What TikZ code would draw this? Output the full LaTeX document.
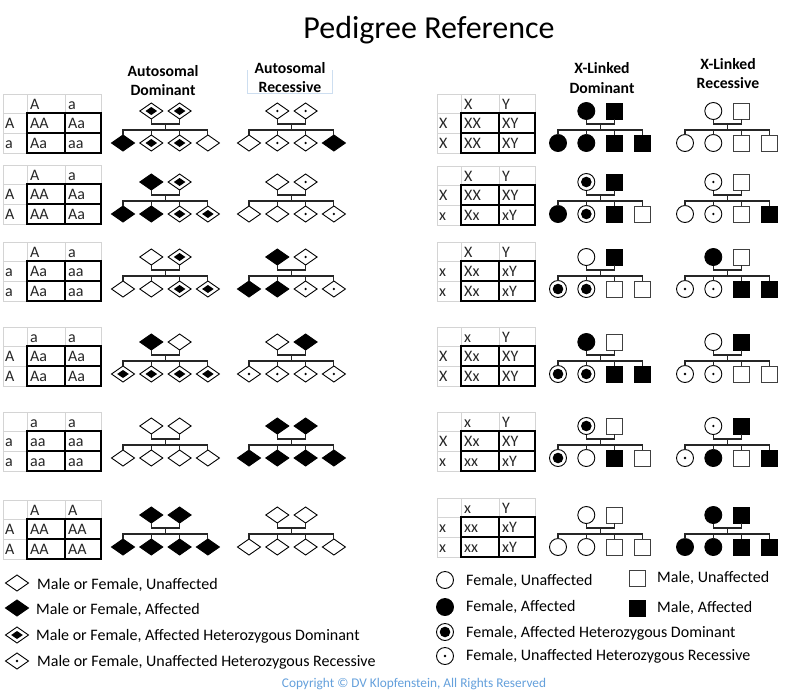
\documentclass[tikz,border=0pt]{standalone}
\usepackage{fontspec}
\setmainfont{Carlito}
\usetikzlibrary{shapes.geometric}
\definecolor{cpy}{RGB}{100,160,220}
\definecolor{tlightc}{RGB}{212,212,212}
\definecolor{boxc}{RGB}{205,222,240}
\tikzset{
  sym/.style={draw=black, line width=0.9pt, inner sep=0pt, outer sep=0pt, fill=white},
  dW/.style={sym, diamond, minimum width=23pt, minimum height=16pt},
  dD/.style={dW, fill=black},
  dH/.style={dW, path picture={\fill[black] ([xshift=-5.8pt]path picture bounding box.center) -- ++(5.8pt,4pt) -- ++(5.8pt,-4pt) -- ++(-5.8pt,-4pt) -- cycle;}},
  dR/.style={dW, path picture={\fill[black] (path picture bounding box.center) circle (1.3pt);}},
  cW/.style={sym, circle, minimum size=17pt},
  cF/.style={cW, fill=black},
  cH/.style={cW, path picture={\fill[black] (path picture bounding box.center) circle (5.3pt);}},
  cR/.style={cW, path picture={\fill[black] (path picture bounding box.center) circle (1.3pt);}},
  sW/.style={sym, rectangle, minimum size=16pt, draw=black!75},
  sF/.style={sW, fill=black, draw=black},
  conn/.style={draw=black!85, line width=1.1pt},
  tlight/.style={draw=tlightc, line width=1pt},
  tdark/.style={draw=black, line width=1.2pt},
  ttext/.style={anchor=base west, inner sep=0pt, font=\fontsize{16}{19}\selectfont, text=black!85},
  head/.style={anchor=base, inner sep=0pt, font=\fontsize{15.7}{19}\selectfont\bfseries},
  legtext/.style={anchor=base west, inner sep=0pt, font=\fontsize{16}{19}\selectfont},
}
\newcommand\pedg[9]{%
  \node[#4] (#1p1) at ({#2+28.3}, #3) {};
  \node[#5] (#1p2) at ({#2+56.6}, #3) {};
  \node[#6] (#1c1) at (#2, {#3+32}) {};
  \node[#7] (#1c2) at ({#2+28.3}, {#3+32}) {};
  \node[#8] (#1c3) at ({#2+56.6}, {#3+32}) {};
  \node[#9] (#1c4) at ({#2+84.9}, {#3+32}) {};
  \coordinate (#1pl) at ({#2+42.45}, {#3+13});
  \coordinate (#1sl) at ({#2+42.45}, {#3+19});
  \draw[conn] (#1p1.south) |- (#1pl) -| (#1p2.south);
  \draw[conn] (#1pl) -- (#1sl);
  \draw[conn] (#1c1.north) |- (#1sl) -| (#1c4.north);
  \draw[conn] (#1c2.north) -- (#1c2.north |- #1sl);
  \draw[conn] (#1c3.north) -- (#1c3.north |- #1sl);
}
\newcommand\ptab[9]{%
  \draw[tlight] (0,0) rectangle (98,59);
  \draw[tlight] (24,0) -- (24,19) (62,0) -- (62,19) (0,19) -- (24,19) (0,39) -- (24,39);
  \draw[tdark] (24,19) rectangle (98,59) (62,19) -- (62,59) (24,39) -- (98,39);
  \draw[tdark, line width=2pt] (24,19) -- (24,59);
  \node[ttext] (#1h1) at (27,15.5) {#2};
  \node[ttext] (#1h2) at (65,15.5) {#3};
  \node[ttext] (#1r1) at (2,34.5) {#4};
  \node[ttext] (#1r2) at (2,54) {#5};
  \node[ttext] (#1a) at (27,34.5) {#6};
  \node[ttext] (#1b) at (65,34.5) {#7};
  \node[ttext] (#1c) at (27,54) {#8};
  \node[ttext] (#1d) at (65,54) {#9};
}
\begin{document}
\begin{tikzpicture}[x=1pt, y=-1pt]
\useasboundingbox[fill=white] (0,0) rectangle (789,699);
\node[anchor=base, inner sep=0pt, font=\fontsize{32}{38}\selectfont] (title) at (429,38) {Pedigree Reference};
% headings
\node[head] (hAD1) at (163,76) {Autosomal};
\node[head] (hAD2) at (163,95) {Dominant};
\draw[draw=boxc, line width=0.8pt] (247,70) -- (247,93) -- (332,93) -- (332,70);
\node[head] (hAR1) at (290,73) {Autosomal};
\node[head] (hAR2) at (290,92) {Recessive};
\node[head] (hXD1) at (602,73) {X-Linked};
\node[head] (hXD2) at (602,93) {Dominant};
\node[head] (hXR1) at (728,69) {X-Linked};
\node[head] (hXR2) at (728,88) {Recessive};
% tables left
\begin{scope}[shift={(3,94)}]\ptab{tl1}{A}{a}{A}{a}{AA}{Aa}{Aa}{aa}\end{scope}
\begin{scope}[shift={(3,165)}]\ptab{tl2}{A}{a}{A}{A}{AA}{Aa}{AA}{Aa}\end{scope}
\begin{scope}[shift={(3,242)}]\ptab{tl3}{A}{a}{a}{a}{Aa}{aa}{Aa}{aa}\end{scope}
\begin{scope}[shift={(3,327)}]\ptab{tl4}{a}{a}{A}{A}{Aa}{Aa}{Aa}{Aa}\end{scope}
\begin{scope}[shift={(3,412)}]\ptab{tl5}{a}{a}{a}{a}{aa}{aa}{aa}{aa}\end{scope}
\begin{scope}[shift={(3,500)}]\ptab{tl6}{A}{A}{A}{A}{AA}{AA}{AA}{AA}\end{scope}
% tables right
\begin{scope}[shift={(437,94)}]\ptab{tr1}{X}{Y}{X}{X}{XX}{XY}{XX}{XY}\end{scope}
\begin{scope}[shift={(437,166)}]\ptab{tr2}{X}{Y}{X}{x}{XX}{XY}{Xx}{xY}\end{scope}
\begin{scope}[shift={(437,242)}]\ptab{tr3}{X}{Y}{x}{x}{Xx}{xY}{Xx}{xY}\end{scope}
\begin{scope}[shift={(437,327)}]\ptab{tr4}{x}{Y}{X}{X}{Xx}{XY}{Xx}{XY}\end{scope}
\begin{scope}[shift={(437,412)}]\ptab{tr5}{x}{Y}{X}{x}{Xx}{XY}{xx}{xY}\end{scope}
\begin{scope}[shift={(437,498)}]\ptab{tr6}{x}{Y}{x}{x}{xx}{xY}{xx}{xY}\end{scope}
% autosomal dominant
\pedg{ad1}{123}{111}{dH}{dH}{dD}{dH}{dH}{dW}
\pedg{ad2}{123}{182}{dD}{dH}{dD}{dD}{dH}{dH}
\pedg{ad3}{123}{257}{dW}{dH}{dW}{dW}{dH}{dH}
\pedg{ad4}{123}{342}{dD}{dW}{dH}{dH}{dH}{dH}
\pedg{ad5}{123}{426}{dW}{dW}{dW}{dW}{dW}{dW}
\pedg{ad6}{123}{515}{dD}{dD}{dD}{dD}{dD}{dD}
% autosomal recessive
\pedg{ar1}{249}{111}{dR}{dR}{dW}{dR}{dR}{dD}
\pedg{ar2}{249}{182}{dW}{dR}{dW}{dW}{dR}{dR}
\pedg{ar3}{249}{257}{dD}{dR}{dD}{dD}{dR}{dR}
\pedg{ar4}{249}{342}{dW}{dD}{dR}{dR}{dR}{dR}
\pedg{ar5}{249}{426}{dD}{dD}{dD}{dD}{dD}{dD}
\pedg{ar6}{249}{515}{dW}{dW}{dW}{dW}{dW}{dW}
% x-linked dominant
\pedg{xd1}{558}{111}{cF}{sF}{cF}{cF}{sF}{sF}
\pedg{xd2}{558}{182}{cH}{sF}{cF}{cH}{sF}{sW}
\pedg{xd3}{558}{257}{cW}{sF}{cH}{cH}{sW}{sW}
\pedg{xd4}{558}{342}{cF}{sW}{cH}{cH}{sF}{sF}
\pedg{xd5}{558}{426}{cH}{sW}{cH}{cW}{sF}{sW}
\pedg{xd6}{558}{515}{cW}{sW}{cW}{cW}{sW}{sW}
% x-linked recessive
\pedg{xr1}{685}{111}{cW}{sW}{cW}{cW}{sW}{sW}
\pedg{xr2}{685}{182}{cR}{sW}{cW}{cR}{sW}{sF}
\pedg{xr3}{685}{257}{cF}{sW}{cR}{cR}{sF}{sF}
\pedg{xr4}{685}{342}{cW}{sF}{cR}{cR}{sW}{sW}
\pedg{xr5}{685}{426}{cR}{sF}{cR}{cF}{sW}{sF}
\pedg{xr6}{685}{515}{cF}{sF}{cF}{cF}{sF}{sF}
% legend left
\node[dW] (L1) at (17,583) {};
\node[dD] (L2) at (17,608) {};
\node[dH] (L3) at (17,635) {};
\node[dR] (L4) at (17,661) {};
\node[legtext] (L1t) at (37,589) {Male or Female, Unaffected};
\node[legtext] (L2t) at (36,614) {Male or Female, Affected};
\node[legtext] (L3t) at (36,640) {Male or Female, Affected Heterozygous Dominant};
\node[legtext] (L4t) at (37,666) {Male or Female, Unaffected Heterozygous Recessive};
% legend right
\node[cW] (R1) at (445,580) {};
\node[cF] (R2) at (445,607) {};
\node[cH] (R3) at (445,632) {};
\node[cR] (R4) at (445,656) {};
\node[legtext] (R1t) at (466,585) {Female, Unaffected};
\node[legtext] (R2t) at (466,611) {Female, Affected};
\node[legtext] (R3t) at (466,637) {Female, Affected Heterozygous Dominant};
\node[legtext] (R4t) at (466,660) {Female, Unaffected Heterozygous Recessive};
\node[sW] (S1) at (637,578) {};
\node[sF] (S2) at (637,608) {};
\node[legtext] (S1t) at (657,582) {Male, Unaffected};
\node[legtext] (S2t) at (657,612) {Male, Affected};
% copyright
\node[anchor=base, inner sep=0pt, text=cpy, font=\fontsize{13.3}{16}\selectfont] (copy) at (414,687) {Copyright © DV Klopfenstein, All Rights Reserved};
\end{tikzpicture}
\end{document}
